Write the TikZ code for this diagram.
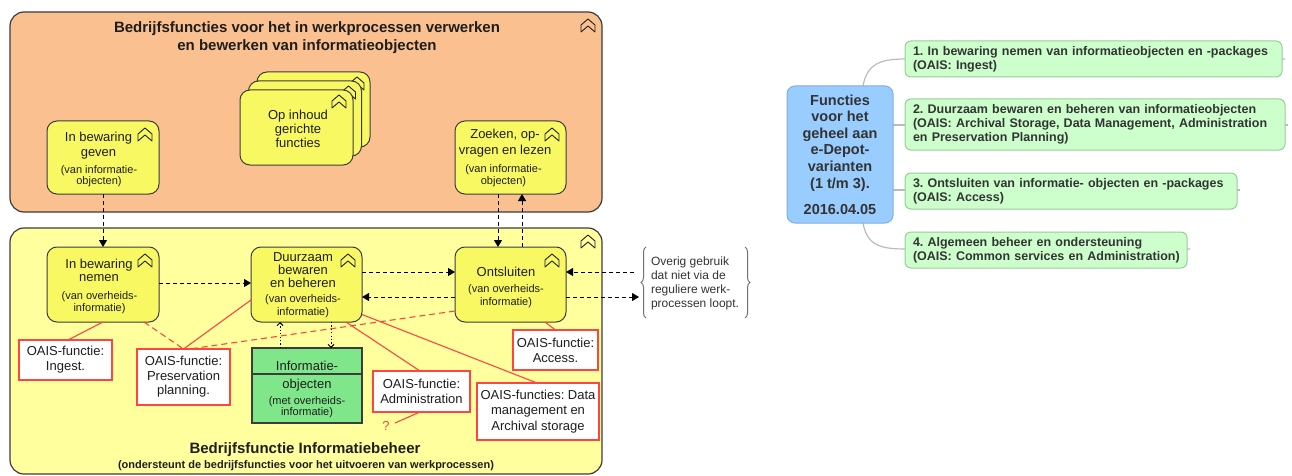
\documentclass[tikz,border=0pt]{standalone}
\usepackage{fontspec}
\setmainfont{Liberation Sans}
\usetikzlibrary{arrows.meta,decorations.pathreplacing}

\definecolor{orangebg}{HTML}{FAC090}
\definecolor{yellowbg}{HTML}{FFFF9E}
\definecolor{fnyellow}{HTML}{F8F862}
\definecolor{objgreen}{HTML}{80E68A}
\definecolor{frame}{HTML}{3C3C3C}
\definecolor{ink}{HTML}{1E1E1E}
\definecolor{oaisred}{HTML}{FF4444}
\definecolor{mmblue}{HTML}{99CCFF}
\definecolor{mmblueline}{HTML}{7FAFE0}
\definecolor{mmgreen}{HTML}{CCFFCC}
\definecolor{mmgreenline}{HTML}{99CC99}
\definecolor{mmlink}{HTML}{BBBBBB}
\definecolor{mmtext}{HTML}{333333}
\definecolor{bracegray}{HTML}{707070}

\newcommand\fsTitle{\fontsize{15}{18}\selectfont\bfseries}
\newcommand\fsNote{\fontsize{11}{13}\selectfont\bfseries}
\newcommand\fsBox{\fontsize{13}{15}\selectfont}
\newcommand\fsMap{\fontsize{12.5}{14}\selectfont\bfseries}
\newcommand\fsHub{\fontsize{14.5}{16.6}\selectfont\bfseries}

\begin{document}
\frenchspacing
\begin{tikzpicture}[x=1pt,y=-1pt,
  every node/.style={inner sep=0pt, outer sep=0pt, text=ink},
  area/.style={draw=frame, line width=1.2pt, rounded corners=14pt},
  fnbox/.style={draw=frame, fill=fnyellow, line width=1pt, rounded corners=10pt},
  objbox/.style={draw=frame, fill=objgreen, line width=1.2pt},
  oaisbox/.style={draw=oaisred, fill=white, line width=1.4pt, align=center, font=\fsBox},
  maintext/.style={align=center, font=\fontsize{13}{#1}\selectfont},
  subtext/.style={align=center, font=\fontsize{11}{#1}\selectfont},
  flow/.style={line width=1pt, dash pattern=on 4pt off 3pt, -{Triangle[length=7pt,width=8pt]}},
  access/.style={line width=1pt, dash pattern=on 1.2pt off 2.2pt, -{Straight Barb[length=3pt,width=6pt]}},
  oaislink/.style={draw=oaisred, line width=1.1pt},
  oaisdash/.style={oaislink, dash pattern=on 6pt off 4pt},
  hub/.style={draw=mmblueline, fill=mmblue, line width=1pt, rounded corners=8pt, align=center, font=\fsHub, text=mmtext},
  leaf/.style={draw=mmgreenline, fill=mmgreen, line width=1pt, rounded corners=6pt, align=left, font=\fsMap, text=mmtext, inner xsep=8pt},
  maplink/.style={draw=mmlink, line width=1.2pt},
  fnicon/.pic={\draw[line width=0.9pt, draw=ink, line join=round]
      (-7,-1) -- (0,-7) -- (7,-1) -- (7,6) -- (0,0) -- (-7,6) -- cycle;}
]
\useasboundingbox (0,0) rectangle (1292,476);

% ---------- the two functional areas ----------
\node[area, fill=orangebg, minimum width=592pt, minimum height=200pt] (upper) at (306,112) {};
\node[area, fill=yellowbg, minimum width=592pt, minimum height=246pt] (lower) at (306,351) {};
\path (upper.north east) ++(-14,14) pic {fnicon};
\path (lower.north east) ++(-14,14) pic {fnicon};

\node[align=center, font=\fsTitle] (upper-title) at (307,38)
  {Bedrijfsfuncties voor het in werkprocessen verwerken\\en bewerken van informatieobjecten};
\node[font=\fsTitle] (lower-title) at (305,450) {Bedrijfsfunctie Informatiebeheer};
\node[font=\fsNote] (lower-note) at (306,466)
  {(ondersteunt de bedrijfsfuncties voor het uitvoeren van werkprocessen)};

% ---------- functions in the upper area ----------
\node[fnbox, minimum width=112pt, minimum height=73pt] (geven) at (103,157.5) {};
\path (geven.north east) ++(-14,14) pic {fnicon};
\node[maintext=15] (geven-t) at (98.5,145.5) {In bewaring\\geven};
\node[subtext=11.5] (geven-s) at (99,176) {(van informatie-\\objecten)};

\node[fnbox, minimum width=111pt, minimum height=73pt] (zoeken) at (510.5,157.5) {};
\path (zoeken.north east) ++(-14,14) pic {fnicon};
\node[maintext=16] (zoeken-t) at (505,143) {Zoeken, op-\\vragen en lezen};
\node[subtext=11.5] (zoeken-s) at (503.5,175.5) {(van informatie-\\objecten)};

% stacked content functions
\node[fnbox, minimum width=113pt, minimum height=75pt] (stack3) at (313.5,109.5) {};
\path (stack3.north east) ++(-13,12) pic {fnicon};
\node[fnbox, minimum width=113pt, minimum height=75pt] (stack2) at (305,118.5) {};
\path (stack2.north east) ++(-13,12) pic {fnicon};
\node[fnbox, minimum width=113pt, minimum height=75pt] (stack1) at (296.5,127.5) {};
\path (stack1.north east) ++(-14,12) pic {fnicon};
\node[maintext=14] (stack-t) at (298,129) {Op inhoud\\gerichte\\functies};

% ---------- functions in the lower area ----------
\node[fnbox, minimum width=112pt, minimum height=75pt] (nemen) at (103,284.5) {};
\path (nemen.north east) ++(-14,14) pic {fnicon};
\node[maintext=13] (nemen-t) at (99,270.5) {In bewaring\\nemen};
\node[subtext=12] (nemen-s) at (99.5,303) {(van overheids-\\informatie)};

\node[fnbox, minimum width=111pt, minimum height=75pt] (duur) at (306.5,284.5) {};
\path (duur.north east) ++(-14,14) pic {fnicon};
\node[maintext=13] (duur-t) at (303,270) {Duurzaam\\bewaren\\en beheren};
\node[subtext=13] (duur-s) at (303,306.5) {(van overheids-\\informatie)};

\node[fnbox, minimum width=111pt, minimum height=75pt] (ontsl) at (510.5,284.5) {};
\path (ontsl.north east) ++(-14,14) pic {fnicon};
\node[maintext=14] (ontsl-t) at (506,272) {Ontsluiten};
\node[subtext=13] (ontsl-s) at (506,296.5) {(van overheids-\\informatie)};

% information object
\node[objbox, minimum width=110pt, minimum height=75pt] (info) at (307,385.5) {};
\draw[frame, line width=1.2pt] ([yshift=-26pt]info.north west) -- ([yshift=-26pt]info.north east);
\node[maintext=14] (info-t) at (307,366) {Informatie-};
\node[maintext=14] (info-u) at (307,385) {objecten};
\node[subtext=11] (info-s) at (307,407.5) {(met overheids-\\informatie)};

% ---------- OAIS annotations ----------
\node[oaisbox, minimum width=93pt, minimum height=40pt] (ingest) at (65.5,360) {OAIS-functie:\\Ingest.};
\node[oaisbox, minimum width=93pt, minimum height=56pt, font=\fontsize{13}{14.5}\selectfont] (preserv) at (183.5,377) {OAIS-functie:\\Preservation\\planning.};
\node[oaisbox, minimum width=97pt, minimum height=41pt] (admin) at (421.5,391.5) {OAIS-functie:\\Administration};
\node[oaisbox, minimum width=122pt, minimum height=57pt, font=\fontsize{13}{15.5}\selectfont] (datam) at (538,411.5) {OAIS-functies: Data\\management en\\Archival storage};
\node[oaisbox, minimum width=85pt, minimum height=40pt] (access) at (555.5,350) {OAIS-functie:\\Access.};
\node[font=\fsBox, text=oaisred] (question) at (386,426) {?};
\coordinate (question-end) at (395,423);

\draw[oaislink] ([xshift=2.5pt]ingest.north) -- (nemen.south);
\draw[oaisdash] ([xshift=41pt]nemen.south) -- (preserv.north);
\draw[oaislink] ([yshift=-15.5pt]duur.west) -- (preserv.north);
\draw[oaisdash] ([yshift=-26.5pt]ontsl.west) -- ([xshift=6pt]preserv.north);
\draw[oaislink] ([xshift=39.5pt]duur.south) -- ([xshift=-1.5pt]admin.north);
\draw[oaislink] ([yshift=-30pt]duur.east) -- ([xshift=-1pt]datam.north);
\draw[oaislink] ([xshift=34.5pt]ontsl.south) -- (access.north);
\draw[oaislink] ([xshift=-1.5pt]admin.south) -- (question-end);

% ---------- flows ----------
\draw[flow] (geven.south) -- (nemen.north);
\draw[flow] ([xshift=-12.5pt]zoeken.south) -- ([xshift=-12.5pt]ontsl.north);
\draw[flow] ([xshift=11.5pt]ontsl.north) -- ([xshift=11.5pt]zoeken.south);
\draw[flow] ([yshift=1.5pt]nemen.east) -- ([yshift=1.5pt]duur.west);
\draw[flow] ([yshift=12.5pt]duur.east) -- ([yshift=12.5pt]ontsl.west);
\draw[flow] ([yshift=-12.5pt]ontsl.west) -- ([yshift=-12.5pt]duur.east);

\coordinate (other-in) at (634,272);
\coordinate (other-out) at (639,297);
\draw[flow] (other-in) -- ([yshift=12.5pt]ontsl.east);
\draw[flow] ([yshift=-12.5pt]ontsl.east) -- (other-out);

% ---------- access to the information object ----------
\draw[access] ([xshift=-27pt]info.north) -- ([xshift=-26.5pt]duur.south);
\draw[access] ([xshift=24.5pt]duur.south) -- ([xshift=24pt]info.north);

% ---------- other use, between braces ----------
\draw[bracegray, line width=1pt, decorate, decoration={brace, amplitude=5pt}] (646,318) -- (646,247);
\draw[bracegray, line width=1pt, decorate, decoration={brace, amplitude=5pt}] (745,247) -- (745,318);
\node[align=left, anchor=west, font=\fontsize{12}{14}\selectfont, text=mmtext] (other) at (651,283.5)
  {Overig gebruik\\dat niet via de\\reguliere werk-\\processen loopt.};

% ---------- mind map of e-Depot functions ----------
\draw[maplink] (863,86) .. controls (867,64) and (880,59) .. (905,59) -- (1285,59);
\draw[maplink] (893,125) -- (1288,125);
\draw[maplink] (893,190) -- (1240,190);
\draw[maplink] (863,223) .. controls (867,245) and (880,249) .. (905,249) -- (1190,249);

\node[hub, minimum width=106pt, minimum height=137pt] (hub) at (840,154.5)
  {Functies\\voor het\\geheel aan\\e-Depot-\\varianten\\(1 t/m 3).\\[9.4pt]2016.04.05};

\node[leaf, text width=361pt, minimum height=36pt] (leaf1) at (1093.5,59)
  {1. In bewaring nemen van informatieobjecten en -packages\\(OAIS: Ingest)};
\node[leaf, text width=364pt, minimum height=51pt] (leaf2) at (1095,124.5)
  {2. Duurzaam bewaren en beheren van informatieobjecten\\(OAIS: Archival Storage, Data Management, Administration\\en Preservation Planning)};
\node[leaf, text width=316pt, minimum height=36pt] (leaf3) at (1071,191)
  {3. Ontsluiten van informatie- objecten en -packages\\(OAIS: Access)};
\node[leaf, text width=266pt, minimum height=36pt] (leaf4) at (1046,250)
  {4. Algemeen beheer en ondersteuning\\\mbox{(OAIS: Common services en Administration)}};

\end{tikzpicture}
\end{document}
